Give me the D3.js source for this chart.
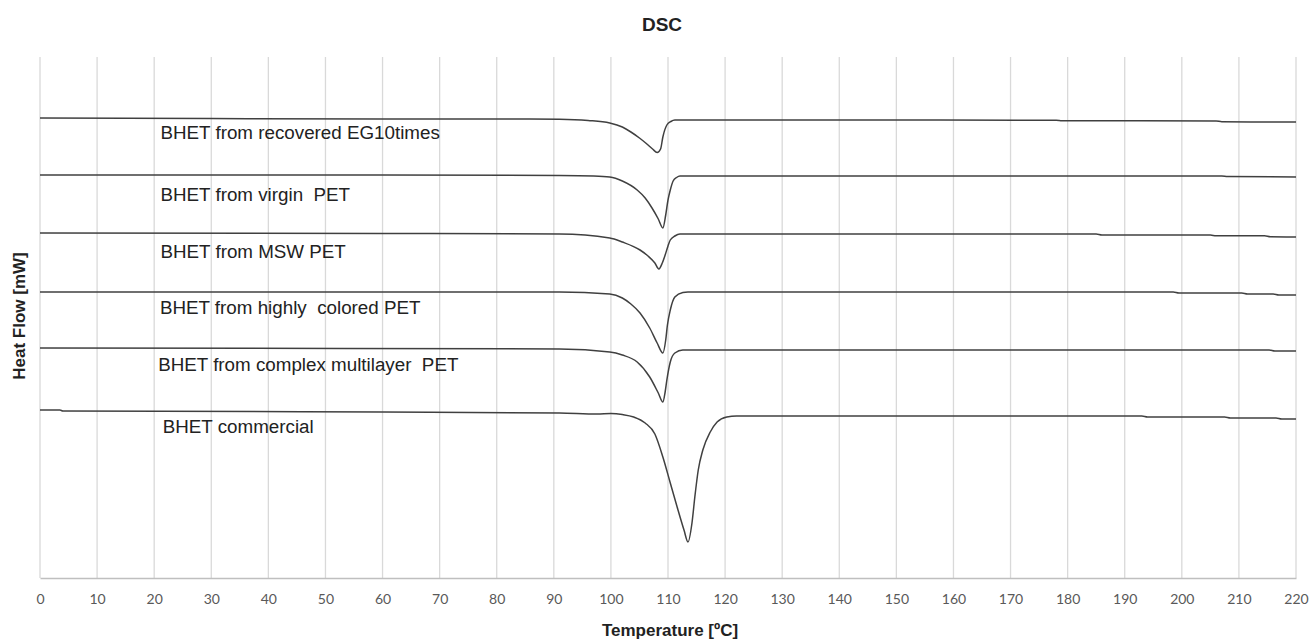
<!DOCTYPE html>
<html>
<head>
<meta charset="utf-8">
<script src="https://cdn.jsdelivr.net/npm/d3@7"></script>
<style>
  body { margin: 0; background: #fff; }
  svg { display: block; }
</style>
</head>
<body>
<div id="chart"></div>
<script>
// DSC curves, temperature (ºC) vs heat flow (arbitrary mW, stacked)
var seriesNames = [
  "BHET from recovered EG10times",
  "BHET from virgin  PET",
  "BHET from MSW PET",
  "BHET from highly  colored PET",
  "BHET from complex multilayer  PET",
  "BHET commercial"
];

var tempEG10 = [0, 30, 60, 80, 91, 96, 99.8, 102, 103.5, 105, 106.2, 107.3, 108.1, 108.7, 109.1, 109.8, 110.5, 111.2, 130, 178, 179, 206, 207, 218, 220];
var flowEG10 = [-6.1, -6.15, -6.2, -6.2, -6.23, -6.35, -6.6, -7.0, -7.5, -8.1, -8.65, -9.2, -9.55, -9.2, -8.0, -6.8, -6.45, -6.3, -6.3, -6.33, -6.37, -6.4, -6.47, -6.5, -6.5];

var tempVirgin = [0, 60, 91, 97, 99.8, 102, 104.6, 106, 107.2, 108.3, 109.1, 109.6, 110, 110.4, 110.9, 111.5, 112.1, 207, 208, 220];
var flowVirgin = [-11.8, -11.8, -11.85, -11.9, -12.0, -12.4, -13.3, -14.1, -15.1, -16.2, -17.1, -15.8, -14.3, -13.3, -12.4, -12.05, -11.9, -11.9, -11.95, -12.0];

var tempMSW = [0, 60, 91, 99.8, 102, 105.1, 106.5, 107.7, 108.4, 109, 109.5, 110, 110.4, 111.2, 112.1, 185, 186, 205, 206, 214.5, 215.5, 220];
var flowMSW = [-17.6, -17.65, -17.7, -18.1, -18.5, -19.3, -19.9, -20.6, -21.2, -20.6, -19.8, -18.9, -18.3, -17.9, -17.7, -17.7, -17.8, -17.8, -17.88, -17.88, -17.98, -18.0];

var tempColored = [0, 91, 99.8, 102, 103.5, 105.1, 106.8, 108.1, 109.1, 109.6, 109.9, 110.4, 111.2, 112.6, 113.5, 198.5, 199.5, 210.5, 211.5, 216, 217, 220];
var flowColored = [-23.5, -23.5, -23.7, -24.1, -24.7, -25.6, -27.1, -28.6, -29.6, -28.3, -26.8, -25.3, -24.0, -23.55, -23.5, -23.5, -23.6, -23.6, -23.7, -23.7, -23.8, -23.8];

var tempMultilayer = [0, 91, 99.8, 102, 104.6, 106.8, 108.3, 109.1, 109.5, 109.8, 110.4, 111.2, 112.6, 215.3, 216.3, 220];
var flowMultilayer = [-29.1, -29.2, -29.5, -29.8, -30.5, -32.0, -33.6, -34.5, -33.5, -32.3, -30.5, -29.6, -29.3, -29.3, -29.4, -29.4];

var tempCommercial = [0, 3.5, 4, 60, 91, 97.6, 100, 102, 104, 106, 107.7, 109.1, 110.4, 111.6, 112.8, 113.5, 114.2, 114.7, 115.3, 116.1, 117.4, 118.6, 120.3, 122, 193, 194, 207.5, 208.5, 216.5, 217.5, 220];
var flowCommercial = [-35.3, -35.3, -35.4, -35.5, -35.6, -35.7, -35.65, -35.75, -36.0, -36.6, -37.7, -40.0, -42.6, -45.0, -47.3, -48.5, -46.6, -44.0, -41.3, -39.3, -37.5, -36.5, -36.0, -35.9, -35.9, -36.0, -36.0, -36.1, -36.1, -36.2, -36.2];

var xTicks = d3.range(0, 221, 10);

var temps = [tempEG10, tempVirgin, tempMSW, tempColored, tempMultilayer, tempCommercial];
var flows = [flowEG10, flowVirgin, flowMSW, flowColored, flowMultilayer, flowCommercial];

var series = seriesNames.map(function(name, i) {
  return {
    name: name,
    points: temps[i].map(function(t, j) { return { t: t, f: flows[i][j] }; })
  };
});

var svgWidth = 1309;
var svgHeight = 641;
var margin = { top: 57, right: 13, bottom: 63, left: 40 };
var width = svgWidth - margin.left - margin.right;
var height = svgHeight - margin.top - margin.bottom;

var svg = d3.select("#chart")
  .append("svg")
  .attr("width", svgWidth)
  .attr("height", svgHeight);

var chartGroup = svg.append("g")
  .attr("transform", `translate(${margin.left}, ${margin.top})`);

var xScale = d3.scaleLinear().domain([0, 220]).range([0, width]);
var yScale = d3.scaleLinear().domain([-52.1, 0]).range([height, 0]);

// vertical gridlines
chartGroup.append("g")
  .selectAll("line")
  .data(xTicks)
  .enter()
  .append("line")
  .attr("x1", d => xScale(d))
  .attr("x2", d => xScale(d))
  .attr("y1", 0)
  .attr("y2", height)
  .attr("stroke", "#d9d9d9")
  .attr("stroke-width", 1.3);

// bottom axis
var xAxis = d3.axisBottom(xScale).tickValues(xTicks).tickSize(0).tickPadding(16);
var axisG = chartGroup.append("g")
  .attr("transform", `translate(0, ${height})`)
  .call(xAxis);
axisG.select(".domain").attr("stroke", "#bfbfbf").attr("stroke-width", 1.5);
axisG.selectAll("text")
  .attr("font-family", "Lato, 'Open Sans', sans-serif")
  .attr("font-size", "14px")
  .attr("fill", "#595959");

// curves
var line = d3.line()
  .x(d => xScale(d.t))
  .y(d => yScale(d.f))
  .curve(d3.curveMonotoneX);

chartGroup.append("g")
  .selectAll("path")
  .data(series)
  .enter()
  .append("path")
  .attr("d", d => line(d.points))
  .attr("fill", "none")
  .attr("stroke", "#404040")
  .attr("stroke-width", 1.5);

// curve labels, placed under each curve's starting level
var labelX = [21.1, 21.1, 21.1, 21.0, 20.7, 21.5];
var labelDrop = [21, 26, 25, 22, 23, 23];
chartGroup.append("g")
  .selectAll("text")
  .data(series)
  .enter()
  .append("text")
  .attr("x", (d, i) => xScale(labelX[i]))
  .attr("y", (d, i) => yScale(d.points[0].f) + labelDrop[i])
  .attr("font-family", "'Liberation Sans', Arial, sans-serif")
  .attr("font-size", "18.8px")
  .attr("fill", "#222")
  .style("white-space", "pre")
  .text(d => d.name);

// title
svg.append("text")
  .attr("x", 662)
  .attr("y", 31)
  .attr("text-anchor", "middle")
  .attr("font-family", "'Liberation Sans', Arial, sans-serif")
  .attr("font-size", "19px")
  .attr("font-weight", "bold")
  .attr("fill", "#222")
  .text("DSC");

// x label
svg.append("text")
  .attr("x", 670)
  .attr("y", 636)
  .attr("text-anchor", "middle")
  .attr("font-family", "'Liberation Sans', Arial, sans-serif")
  .attr("font-size", "17px")
  .attr("font-weight", "bold")
  .attr("fill", "#222")
  .text("Temperature [ºC]");

// y label
svg.append("text")
  .attr("transform", "translate(25, 316) rotate(-90)")
  .attr("text-anchor", "middle")
  .attr("font-family", "'Liberation Sans', Arial, sans-serif")
  .attr("font-size", "17px")
  .attr("font-weight", "bold")
  .attr("fill", "#222")
  .text("Heat Flow [mW]");
</script>
</body>
</html>
